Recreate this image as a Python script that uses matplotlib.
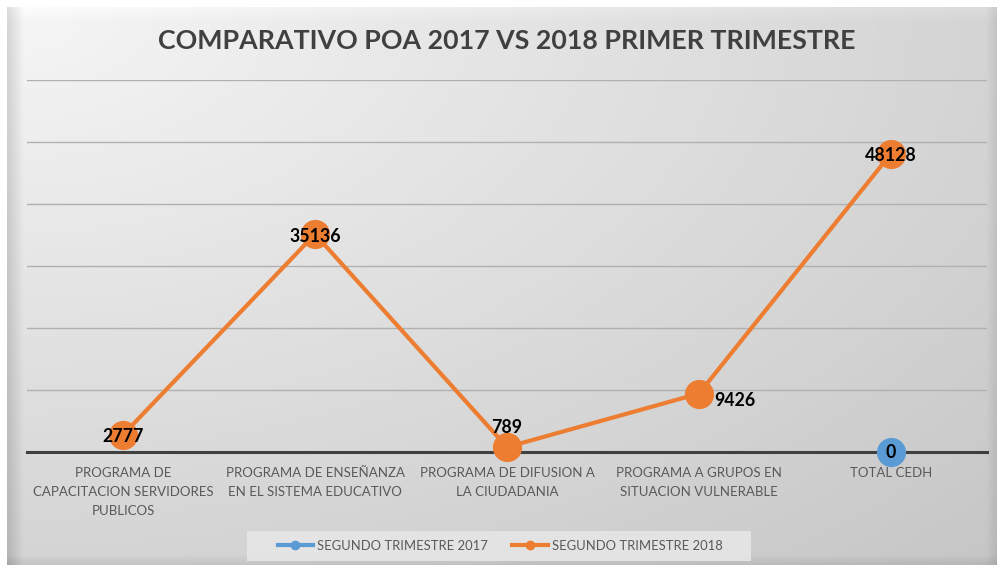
import numpy as np
import matplotlib
matplotlib.use("Agg")
import matplotlib.pyplot as plt
from matplotlib.lines import Line2D
from matplotlib.patches import Rectangle

# data
categorias = ["PROGRAMA DE\nCAPACITACION SERVIDORES\nPUBLICOS",
              "PROGRAMA DE ENSEÑANZA\nEN EL SISTEMA EDUCATIVO",
              "PROGRAMA DE DIFUSION A\nLA CIUDADANIA",
              "PROGRAMA A GRUPOS EN\nSITUACION VULNERABLE",
              "TOTAL CEDH"]
serie_2017 = [np.nan, np.nan, np.nan, np.nan, 0]
serie_2018 = [2777, 35136, 789, 9426, 48128]
nombres = ["SEGUNDO TRIMESTRE 2017", "SEGUNDO TRIMESTRE 2018"]

AZUL = "#5B9BD5"
NARANJA = "#ED7D31"

plt.rcParams['font.family'] = ['Lato', 'DejaVu Sans']

fig = plt.figure(figsize=(10, 5.68), dpi=100)
fig.patch.set_facecolor("white")

#########################################
# background gradient with bevel
#########################################
bg = fig.add_axes([0.007, 0.005, 0.990, 0.983], zorder=-10)
h, w = 300, 500
yy, xx = np.mgrid[0:h, 0:w]
d = np.sqrt((xx / w) ** 2 + (yy / h) ** 2) / np.sqrt(2)
g = 0.965 - 0.19 * d
# left bevel
left = np.clip(1 - xx / 8.0, 0, 1)
g = g - 0.12 * left
# top bevel highlight
top = np.clip(1 - yy / 8.0, 0, 1)
g = g + 0.03 * top
# right and bottom bevel
right = np.clip(1 - (w - 1 - xx) / 5.0, 0, 1)
bottom = np.clip(1 - (h - 1 - yy) / 5.0, 0, 1)
g = g - 0.06 * right - 0.06 * bottom
g = np.clip(g, 0, 1)
bg.imshow(np.dstack([g, g, g]), aspect="auto", interpolation="bilinear")
bg.set_axis_off()

#########################################
# main plot
#########################################
ax = fig.add_axes([0.027, (568 - 452) / 568, 0.960, (452 - 80) / 568])
ax.patch.set_alpha(0)
x = np.arange(len(categorias))

ax.plot(x, serie_2018, color=NARANJA, lw=3, marker="o", ms=20,
        zorder=3, clip_on=False)
ax.plot(x, serie_2017, color=AZUL, lw=3, marker="o", ms=20, zorder=4,
        clip_on=False)

ax.set_xlim(-0.5, len(categorias) - 0.5)
ax.set_ylim(0, 60000)
ax.set_yticks(np.arange(0, 60001, 10000))
ax.yaxis.grid(True, color="#b0b0b0", lw=1)
ax.set_axisbelow(True)
ax.tick_params(axis="y", left=False, labelleft=False)
ax.tick_params(axis="x", bottom=False, pad=7)
for s in ["top", "right", "left"]:
    ax.spines[s].set_visible(False)
ax.spines["bottom"].set_color("#404040")
ax.spines["bottom"].set_linewidth(2.2)
ax.spines["bottom"].set_zorder(2)
ax.set_xticks(x)
ax.set_xticklabels(categorias, fontsize=9.5, color="#595959", linespacing=1.7)

# data labels
lab_kw = dict(fontsize=12.8, fontweight="bold", color="black", zorder=5)
for i, v in enumerate(serie_2018):
    if i == 2:
        ax.annotate(str(v), (x[i], v), xytext=(0, 8), textcoords="offset points",
                    ha="center", va="bottom", **lab_kw)
    elif i == 3:
        ax.annotate(str(v), (x[i], v), xytext=(11, -5), textcoords="offset points",
                    ha="left", va="center", **lab_kw)
    else:
        ax.annotate(str(v), (x[i], v), xytext=(0, -1.5), textcoords="offset points",
                    ha="center", va="center", **lab_kw)
for i, v in enumerate(serie_2017):
    if not np.isnan(v):
        ax.annotate(str(int(v)), (x[i], v), xytext=(0, 0), textcoords="offset points",
                    ha="center", va="center", **lab_kw)

# title
fig.text(0.507, 0.928, "COMPARATIVO POA 2017 VS 2018 PRIMER TRIMESTRE",
         ha="center", va="center", fontsize=19.3, fontweight="bold", color="#404040")

# legend (box drawn separately)
fig.patches.append(Rectangle((247 / 1000, (568 - 561) / 568), 504 / 1000, 30 / 568,
                             transform=fig.transFigure, facecolor="#e6e6e6",
                             edgecolor="none", alpha=0.9, zorder=1))
handles = [Line2D([0], [0], color=AZUL, lw=3, marker="o", ms=6),
           Line2D([0], [0], color=NARANJA, lw=3, marker="o", ms=6)]
leg = fig.legend(handles, nombres, loc="center", bbox_to_anchor=(0.500, 0.0387),
                 ncol=2, frameon=False, fontsize=9.4, handlelength=2.7,
                 handletextpad=0.3, columnspacing=1.9,
                 labelcolor="#595959")

fig.savefig("out.png", dpi=100)
